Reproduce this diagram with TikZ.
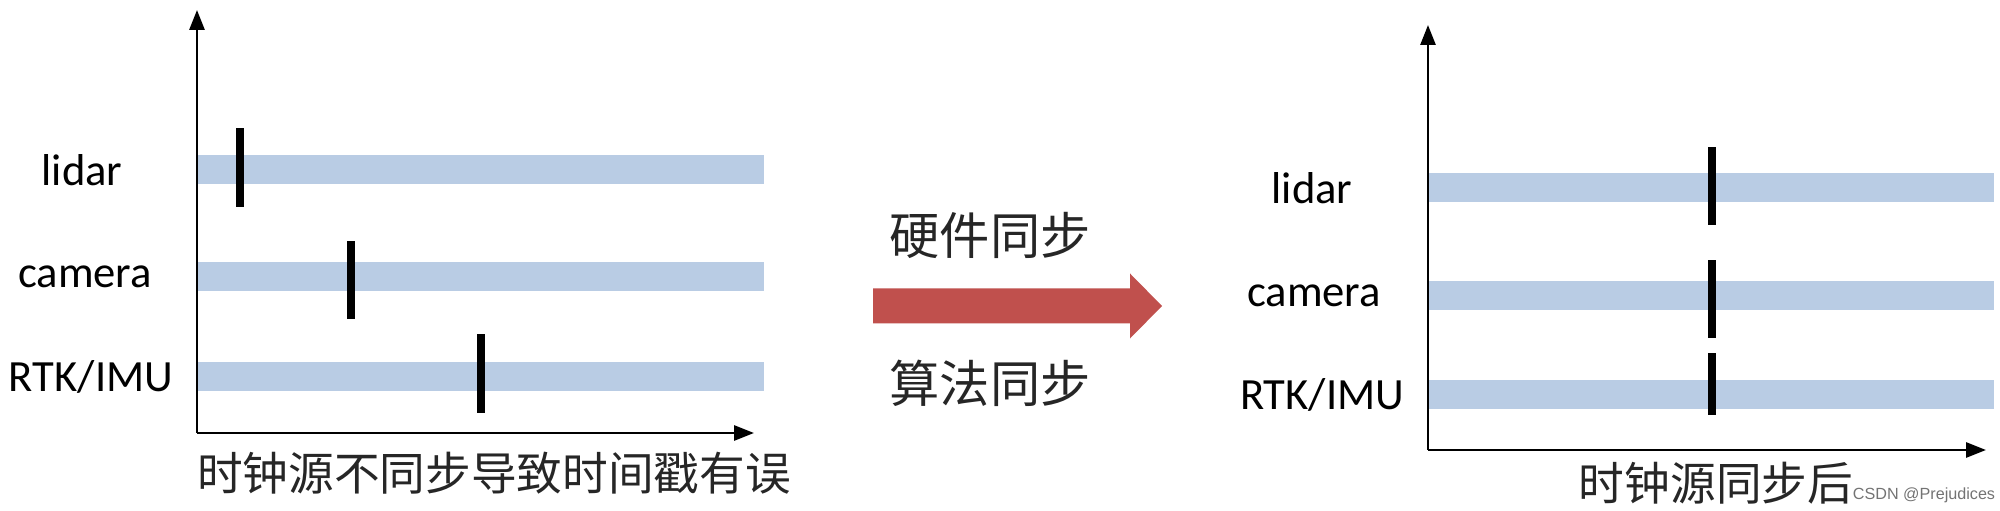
\documentclass[tikz,border=0pt]{standalone}
\usepackage{fontspec}
\setmainfont{Carlito}
\newfontfamily\cjk{Noto Sans CJK SC}
\newfontfamily\wmark{Liberation Sans}
\usetikzlibrary{arrows.meta,shadows}
\definecolor{barblue}{RGB}{185,204,228}
\definecolor{syncred}{RGB}{192,80,77}
\tikzset{
  axis/.style = {line width=0.8pt, -{Triangle[length=0.2cm,width=0.15cm]}},
  track/.style = {fill=barblue, inner sep=0, minimum height=0.29cm},
  stamp/.style = {line width=0.08cm},
  sensor/.style = {font=\fontsize{12.7}{15}\selectfont},
  caption/.style = {font=\cjk\fontsize{13}{15}\selectfont, text=black!85},
  method/.style = {font=\cjk\fontsize{14.3}{16}\selectfont, text=black!85}
}
\newcommand{\timeaxes}[4]{\coordinate (#1o) at (#2); \coordinate (#1x) at (#3); \coordinate (#1y) at (#4);
\draw[axis] (#1o) -- (#1x); \draw[axis] (#1o) -- (#1y);}

\begin{document}
\begin{tikzpicture}
\useasboundingbox (0,0) rectangle (20,5.11);
% before sync
\node[track, minimum width=5.67cm] (lidarL) at (4.805,3.41) {};
\node[track, minimum width=5.67cm] (cameraL) at (4.805,2.34) {};
\node[track, minimum width=5.67cm] (rtkL) at (4.805,1.34) {};
\timeaxes{L}{1.97,0.78}{7.54,0.78}{1.97,5.01};
\draw[stamp] (2.40,3.04) -- (2.40,3.83);
\draw[stamp] (3.51,1.92) -- (3.51,2.70);
\draw[stamp] (4.81,0.98) -- (4.81,1.77);
\node[sensor] (lidarLabelL) at (0.82,3.41) {lidar};
\node[sensor] (cameraLabelL) at (0.85,2.34) {camera};
\node[sensor] (rtkLabelL) at (0.91,1.34) {RTK/IMU};
\node[caption] (capL) at (4.94,0.38) {时钟源不同步导致时间戳有误};
% sync arrow
\path[draw=white, fill=white, line width=0.2cm, drop shadow={shadow xshift=0.03cm, shadow yshift=-0.06cm, opacity=0.4}]
  (8.73,1.875) -- (11.30,1.875) -- (11.30,1.725) -- (11.62,2.05) -- (11.30,2.375) -- (11.30,2.225) -- (8.73,2.225) -- cycle;
\fill[syncred] (8.73,1.875) -- (11.30,1.875) -- (11.30,1.725) -- (11.62,2.05) -- (11.30,2.375) -- (11.30,2.225) -- (8.73,2.225) -- cycle;
\node[method] (hw) at (9.90,2.76) {硬件同步};
\node[method] (algo) at (9.90,1.28) {算法同步};
% after sync
\node[track, minimum width=5.66cm] (lidarR) at (17.11,3.23) {};
\node[track, minimum width=5.66cm] (cameraR) at (17.11,2.15) {};
\node[track, minimum width=5.66cm] (rtkR) at (17.11,1.16) {};
\timeaxes{R}{14.28,0.61}{19.86,0.61}{14.28,4.86};
\foreach \a/\b in {2.86/3.64, 1.73/2.51, 0.96/1.58}
  \draw[stamp] (17.12,\a) -- (17.12,\b);
\node[sensor] (lidarLabelR) at (13.12,3.23) {lidar};
\node[sensor] (cameraLabelR) at (13.14,2.15) {camera};
\node[sensor] (rtkLabelR) at (13.22,1.16) {RTK/IMU};
\node[caption] (capR) at (17.16,0.28) {时钟源同步后};
\node[font=\wmark\fontsize{4.6}{5}\selectfont, text=black!55] (csdn) at (19.24,0.16) {CSDN @Prejudices};
\end{tikzpicture}
\end{document}
